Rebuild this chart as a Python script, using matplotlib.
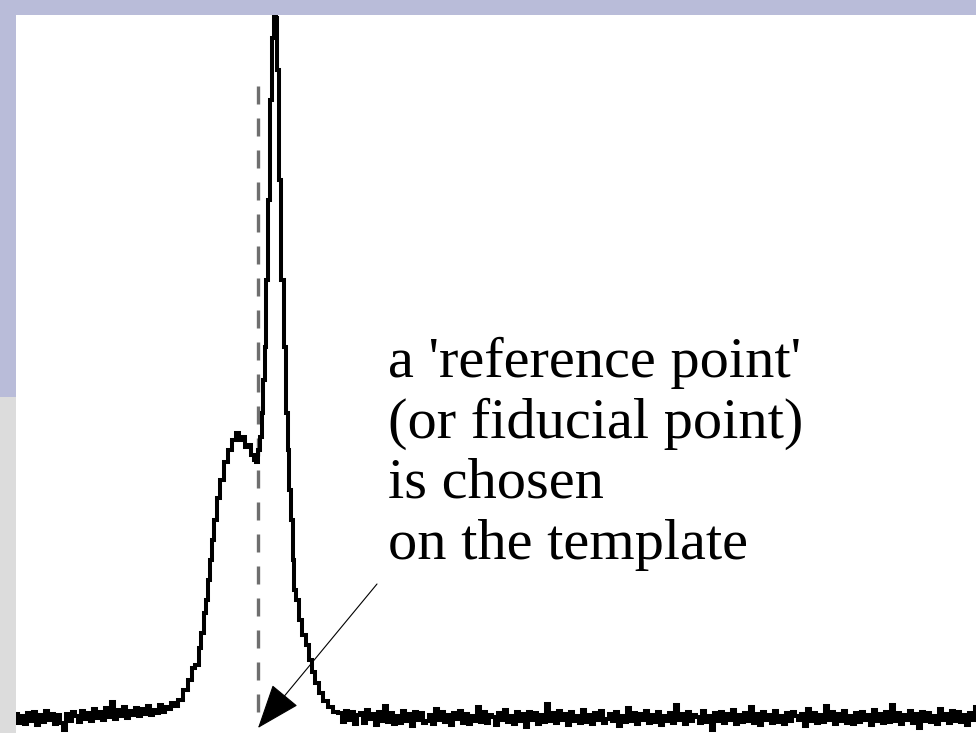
import matplotlib
matplotlib.use("Agg")
import matplotlib.pyplot as plt
from matplotlib.patches import Rectangle

# --- signal samples (x in pixels from panel edge, y = amplitude above baseline) ---
left_x = list(range(0, 160, 3))
left_y = [4, -5, 2, -6, 5, -3, 6, -7, 3, -4, 7, -2, 4, -6, 3, -5, -12, 4, -3, 6,
          2, -4, 7, -1, 5, -3, 9, 0, 6, -2, 10, 1, 16, -1, 8, 2, 11, 0, 7, 3,
          10, 2, 9, 4, 12, 3, 8, 5, 13, 6, 11, 9, 15, 12]

pulse_x = [164, 169, 174, 177, 181, 184, 186, 189, 191, 193, 195, 197, 199, 202,
           206, 210, 214, 218, 221, 224, 227, 230, 233, 236, 239, 241, 243, 245,
           246, 248, 249, 251, 253, 255, 257, 259, 260, 262, 264, 266, 269, 271,
           272, 274, 276, 277, 279, 281, 284, 288, 291, 294, 297, 301, 304, 309,
           314, 320]
pulse_y = [18, 28, 38, 50, 53, 70, 85, 105, 118, 138, 158, 178, 198, 220,
           238, 256, 268, 278, 285, 278, 281, 271, 273, 263, 258, 256, 268, 281,
           305, 338, 371, 438, 518, 618, 680, 740, 700, 648, 538, 438, 371, 305,
           268, 228, 198, 158, 128, 118, 98, 83, 73, 58, 46, 35, 25, 17,
           11, 6]

right_x = list(range(324, 961, 3))
right_y = [5, -4, 7, -2, 6, -6, 3, 5, -5, 8, -1, 4, -7, 6, -3, 12, -4, 5, -6, 2,
           -5, 7, -3, 4, -8, 6, -2, 5, -5, -3, 3, -6, 9, -2, 6, -4, 3, -7, 5, -1,
           7, -5, 4, -6, 2, -3, 11, -4, 6, -5, 3, 1, -7, 5, -2, 8, -4, 2, -6, 6,
           -3, 4, -9, 6, -2, 5, -6, 3, -4, 14, -3, 5, -5, 7, -2, 4, -7, 6, -3, 2,
           -5, 8, -4, 3, -6, 5, -2, 7, -5, -1, 4, -3, 6, -8, 2, -4, 10, -3, 5, -6,
           4, -2, 7, -5, 3, -4, 6, -7, 2, -3, 5, -5, 13, -2, 4, -6, 6, -3, 3, 1,
           -5, 7, -4, 2, -12, 5, -3, 6, -5, 4, -2, 8, -6, 3, -4, 5, -3, 11, -5, 4,
           -7, 6, -2, 3, -5, 7, -4, 2, -6, 5, -3, 6, 2, -2, 4, -8, 9, -3, 5, -5,
           3, -4, 12, -2, 6, -6, 4, -3, 7, -5, 2, -6, 5, -4, 6, -2, 3, -7, 8, -3,
           4, -5, 6, -4, 13, -3, 5, -6, 3, -2, 7, -5, 4, -10, 6, -3, 5, -4, 2, -6,
           9, -2, 4, -5, 7, -3, 6, -4, 3, -7, 5, -2, 11]

# fiducial point marker
fiducial_x = 242
fiducial_top = 638
fiducial_bottom = 6

caption_lines = ["a 'reference point'", "(or fiducial point)", "is chosen", "on the template"]
caption_baselines = [341, 280, 220, 159]
caption_x = 372

arrow_start = (361, 134)
arrow_end = (242, -10)

# --- figure ---
W, H = 976, 733
fig = plt.figure(figsize=(W / 100, H / 100), dpi=100, facecolor="white")

blue = "#b9bcd9"
grey = "#dcdcdc"
fig.patches.append(Rectangle((0, 1 - 15 / H), 1, 15 / H, transform=fig.transFigure,
                             facecolor=blue, edgecolor="none", zorder=0))
fig.patches.append(Rectangle((0, (H - 397) / H), 16 / W, 397 / H, transform=fig.transFigure,
                             facecolor=blue, edgecolor="none", zorder=0))
fig.patches.append(Rectangle((0, 0), 16 / W, (H - 397) / H, transform=fig.transFigure,
                             facecolor=grey, edgecolor="none", zorder=0))

ax = fig.add_axes([16 / W, 0, (W - 16) / W, (H - 15) / H])
ax.set_xlim(0, 960)
ax.set_ylim(-15, 703)
ax.axis("off")

xs = left_x + pulse_x + right_x
ys = left_y + pulse_y + right_y
ax.plot(xs, ys, color="black", lw=2.9, drawstyle="steps-mid", solid_joinstyle="miter", zorder=3)

ax.plot([fiducial_x, fiducial_x], [fiducial_bottom, fiducial_top], color="#6e6e6e",
        lw=2.4, ls=(0, (5.4, 4.2)), zorder=2)

for line, yb in zip(caption_lines, caption_baselines):
    ax.text(caption_x, yb, line, fontsize=42, family="Liberation Serif",
            ha="left", va="baseline", color="black")

ax.annotate("", xy=arrow_end, xytext=arrow_start,
            arrowprops=dict(arrowstyle="-|>,head_length=1.6,head_width=0.6",
                            mutation_scale=18, lw=0.8, color="black",
                            shrinkA=0, shrinkB=0))

fig.savefig("out.png", dpi=100, facecolor=fig.get_facecolor())
